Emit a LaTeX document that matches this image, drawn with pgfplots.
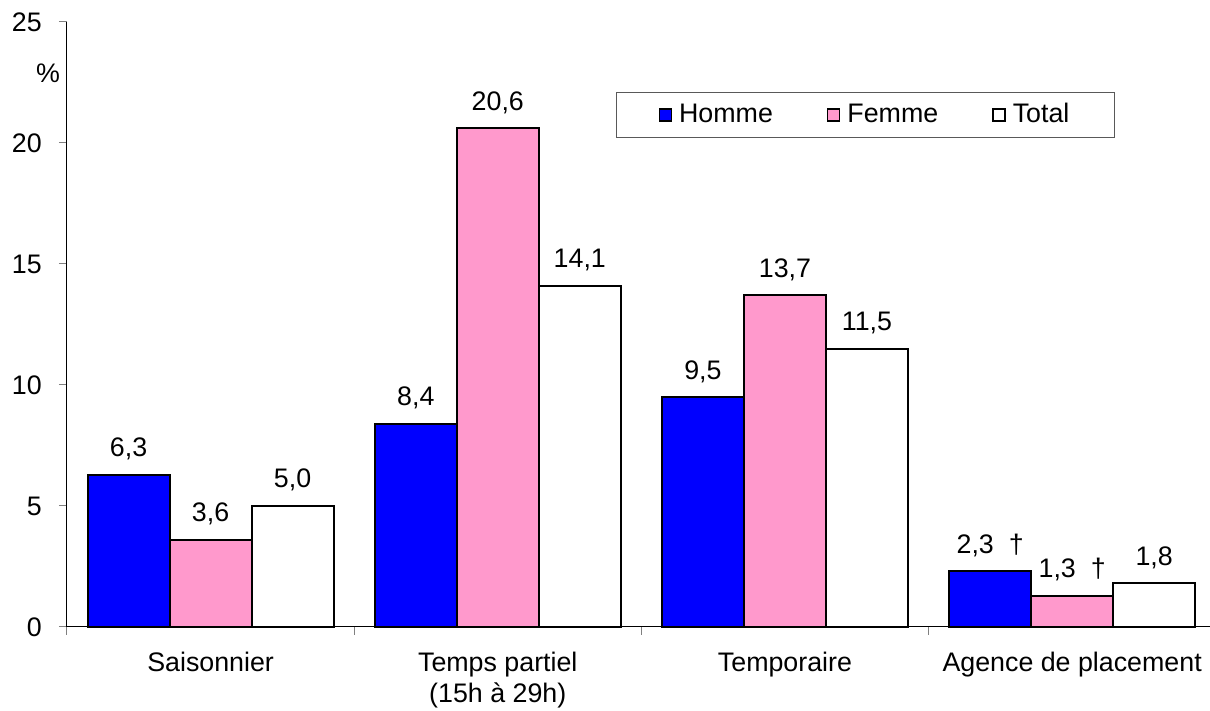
\documentclass[border=0pt]{standalone}
\usepackage{fontspec}
\setmainfont{Liberation Sans}
\usepackage{pgfplots}
\pgfplotsset{compat=1.18}
\definecolor{homme}{HTML}{0000FF}
\definecolor{femme}{HTML}{FF99CC}
\newcommand{\lbl}{\fontsize{13.4}{15.5}\selectfont}

\begin{document}
\lbl
\begin{tikzpicture}
\begin{axis}[
  at={(0,0)}, anchor=south west,
  scale only axis, width=571.5pt, height=302.5pt,
  ybar=0pt, bar width=41pt,
  xmin=-0.5, xmax=3.48, ymin=0, ymax=25,
  axis x line=bottom, axis y line=left,
  axis line style={-, line width=0.5pt, black},
  clip=false,
  ytick={0,5,...,25},
  tick align=outside, major tick length=4pt,
  tick style={gray, line width=0.5pt},
  xtick={-0.5,0.5,1.5,2.5}, xticklabels={},
  extra x ticks={0,1,2,3},
  extra x tick labels={Saisonnier, {Temps partiel\\(15h à 29h)}, Temporaire, Agence de placement},
  extra x tick style={major tick length=0pt,
    xticklabel style={align=center, anchor=north, yshift=-8pt, font=\lbl}},
  yticklabel style={font=\lbl, xshift=-4pt},
  /pgf/number format/assume math mode=true,
  every axis plot/.append style={draw=black, line width=1pt},
  nodes near coords, point meta=explicit symbolic,
  nodes near coords style={font=\lbl, anchor=base, yshift=9pt},
  legend image code/.code={\draw[#1, line width=0.75pt] (0pt,-3pt) rectangle (6pt,3pt);},
  legend style={at={(0.6986,0.846)}, anchor=center, legend columns=3,
    draw=gray!70!black, line width=0.5pt, font=\lbl,
    inner xsep=21pt, inner ysep=4pt,
    nodes={inner sep=1.5pt},
    /tikz/every odd column/.append style={column sep=2pt},
    /tikz/every even column/.append style={column sep=25.5pt}},
]
\addplot[fill=homme] coordinates {(0,6.3)[6,3] (1,8.4)[8,4] (2,9.5)[9,5] (3,2.3)[2,3~~†]};
\addplot[fill=femme] coordinates {(0,3.6)[3,6] (1,20.6)[20,6] (2,13.7)[13,7] (3,1.3)[1,3~~†]};
\addplot[fill=white] coordinates {(0,5.0)[5,0] (1,14.1)[14,1] (2,11.5)[11,5] (3,1.8)[1,8]};
\legend{Homme, Femme, Total}
\node at (rel axis cs:0,1) [xshift=-9.5pt, yshift=-25.5pt] {\%};
\end{axis}
\pgfresetboundingbox
\useasboundingbox (-33.5pt,-42pt) rectangle (571.5pt,313.5pt);
\end{tikzpicture}
\end{document}
